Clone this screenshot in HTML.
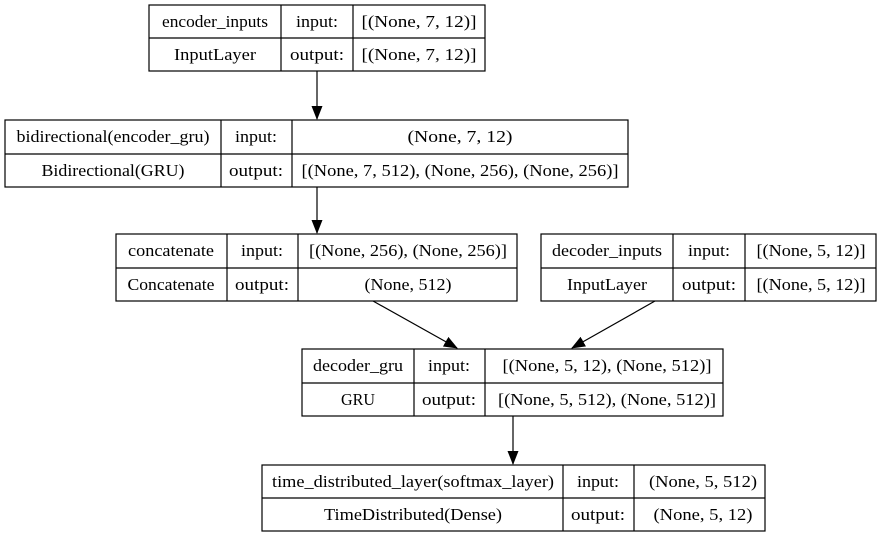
<!DOCTYPE html>
<html><head><style>
body{margin:0;background:#fff}
text{font-family:"Liberation Serif","Nimbus Roman","Times New Roman","DejaVu Serif",serif;font-size:17px;fill:#000}
</style></head><body>
<svg width="882" height="536" viewBox="0 0 882 536" xmlns="http://www.w3.org/2000/svg">
<defs><marker id="a" markerWidth="14" markerHeight="12" refX="13" refY="6" orient="auto" markerUnits="userSpaceOnUse"><path d="M0,0.5 L14,6 L0,11.5 z" fill="#000"/></marker></defs>
<g fill="none" stroke="#000" stroke-width="1.2">
<rect x="149" y="5" width="336" height="66"/><line x1="149" y1="38" x2="485" y2="38"/><line x1="281" y1="5" x2="281" y2="71"/><line x1="353" y1="5" x2="353" y2="71"/>
<rect x="5" y="120" width="623" height="67"/><line x1="5" y1="154" x2="628" y2="154"/><line x1="221" y1="120" x2="221" y2="187"/><line x1="292" y1="120" x2="292" y2="187"/>
<rect x="116" y="234" width="401" height="67"/><line x1="116" y1="268" x2="517" y2="268"/><line x1="227" y1="234" x2="227" y2="301"/><line x1="298" y1="234" x2="298" y2="301"/>
<rect x="541" y="234" width="335" height="67"/><line x1="541" y1="268" x2="876" y2="268"/><line x1="673" y1="234" x2="673" y2="301"/><line x1="745" y1="234" x2="745" y2="301"/>
<rect x="302" y="349" width="421" height="67"/><line x1="302" y1="383" x2="723" y2="383"/><line x1="414" y1="349" x2="414" y2="416"/><line x1="485" y1="349" x2="485" y2="416"/>
<rect x="262" y="465" width="503" height="66"/><line x1="262" y1="498" x2="765" y2="498"/><line x1="563" y1="465" x2="563" y2="531"/><line x1="634" y1="465" x2="634" y2="531"/>
<line x1="317" y1="71" x2="317" y2="119" marker-end="url(#a)"/>
<line x1="317" y1="187" x2="317" y2="233" marker-end="url(#a)"/>
<line x1="373" y1="301" x2="457" y2="348" marker-end="url(#a)"/>
<line x1="655" y1="301" x2="572" y2="348" marker-end="url(#a)"/>
<line x1="513" y1="416" x2="513" y2="464" marker-end="url(#a)"/>
</g>
<g text-anchor="middle">
<text x="215" y="27" textLength="106" lengthAdjust="spacingAndGlyphs">encoder_inputs</text><text x="317" y="27" textLength="42" lengthAdjust="spacingAndGlyphs">input:</text><text x="419" y="27" textLength="115" lengthAdjust="spacingAndGlyphs">[(None, 7, 12)]</text>
<text x="215" y="60" textLength="82" lengthAdjust="spacingAndGlyphs">InputLayer</text><text x="317" y="60" textLength="54" lengthAdjust="spacingAndGlyphs">output:</text><text x="419" y="60" textLength="115" lengthAdjust="spacingAndGlyphs">[(None, 7, 12)]</text>
<text x="113" y="142" textLength="193" lengthAdjust="spacingAndGlyphs">bidirectional(encoder_gru)</text><text x="256" y="142" textLength="42" lengthAdjust="spacingAndGlyphs">input:</text><text x="460" y="142" textLength="105" lengthAdjust="spacingAndGlyphs">(None, 7, 12)</text>
<text x="113" y="176" textLength="143" lengthAdjust="spacingAndGlyphs">Bidirectional(GRU)</text><text x="256" y="176" textLength="54" lengthAdjust="spacingAndGlyphs">output:</text><text x="460" y="176" textLength="317" lengthAdjust="spacingAndGlyphs">[(None, 7, 512), (None, 256), (None, 256)]</text>
<text x="171" y="256" textLength="86" lengthAdjust="spacingAndGlyphs">concatenate</text><text x="262" y="256" textLength="42" lengthAdjust="spacingAndGlyphs">input:</text><text x="408" y="256" textLength="198" lengthAdjust="spacingAndGlyphs">[(None, 256), (None, 256)]</text>
<text x="171" y="290" textLength="87" lengthAdjust="spacingAndGlyphs">Concatenate</text><text x="262" y="290" textLength="54" lengthAdjust="spacingAndGlyphs">output:</text><text x="408" y="290" textLength="87" lengthAdjust="spacingAndGlyphs">(None, 512)</text>
<text x="607" y="256" textLength="110" lengthAdjust="spacingAndGlyphs">decoder_inputs</text><text x="709" y="256" textLength="42" lengthAdjust="spacingAndGlyphs">input:</text><text x="811" y="256" textLength="109" lengthAdjust="spacingAndGlyphs">[(None, 5, 12)]</text>
<text x="607" y="290" textLength="80" lengthAdjust="spacingAndGlyphs">InputLayer</text><text x="709" y="290" textLength="54" lengthAdjust="spacingAndGlyphs">output:</text><text x="811" y="290" textLength="109" lengthAdjust="spacingAndGlyphs">[(None, 5, 12)]</text>
<text x="358" y="371" textLength="90" lengthAdjust="spacingAndGlyphs">decoder_gru</text><text x="449" y="371" textLength="42" lengthAdjust="spacingAndGlyphs">input:</text><text x="607" y="371" textLength="209" lengthAdjust="spacingAndGlyphs">[(None, 5, 12), (None, 512)]</text>
<text x="358" y="405" textLength="34" lengthAdjust="spacingAndGlyphs">GRU</text><text x="449" y="405" textLength="54" lengthAdjust="spacingAndGlyphs">output:</text><text x="607" y="405" textLength="218" lengthAdjust="spacingAndGlyphs">[(None, 5, 512), (None, 512)]</text>
<text x="413" y="487" textLength="282" lengthAdjust="spacingAndGlyphs">time_distributed_layer(softmax_layer)</text><text x="598" y="487" textLength="42" lengthAdjust="spacingAndGlyphs">input:</text><text x="703" y="487" textLength="108" lengthAdjust="spacingAndGlyphs">(None, 5, 512)</text>
<text x="413" y="520" textLength="178" lengthAdjust="spacingAndGlyphs">TimeDistributed(Dense)</text><text x="598" y="520" textLength="54" lengthAdjust="spacingAndGlyphs">output:</text><text x="703" y="520" textLength="99" lengthAdjust="spacingAndGlyphs">(None, 5, 12)</text>
</g>
</svg>
</body></html>
